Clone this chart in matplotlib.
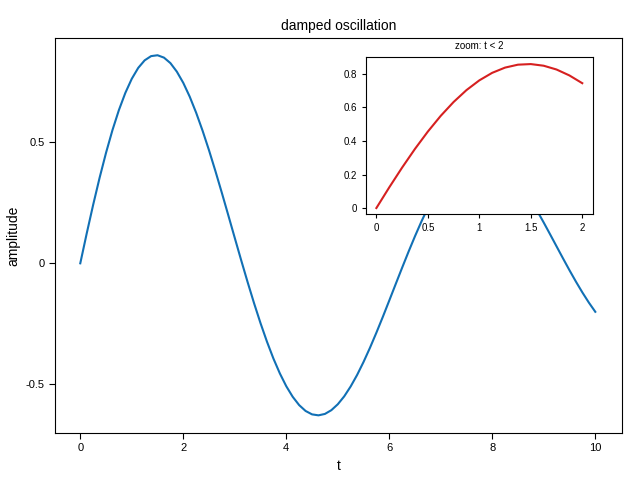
import matplotlib
matplotlib.use("Agg")
import matplotlib.pyplot as plt

t = [0, 0.125, 0.25, 0.375, 0.5, 0.625, 0.75, 0.875, 1.0, 1.125, 1.25, 1.375, 1.5, 1.625, 1.75, 1.875,
     2.0, 2.125, 2.25, 2.375, 2.5, 2.625, 2.75, 2.875, 3.0, 3.125, 3.25, 3.375, 3.5, 3.625, 3.75, 3.875,
     4.0, 4.125, 4.25, 4.375, 4.5, 4.625, 4.75, 4.875, 5.0, 5.125, 5.25, 5.375, 5.5, 5.625, 5.75, 5.875,
     6.0, 6.125, 6.25, 6.375, 6.5, 6.625, 6.75, 6.875, 7.0, 7.125, 7.25, 7.375, 7.5, 7.625, 7.75, 7.875,
     8.0, 8.125, 8.25, 8.375, 8.5, 8.625, 8.75, 8.875, 9.0, 9.125, 9.25, 9.375, 9.5, 9.625, 9.75, 9.875,
     10.0]
amp = [0, 0.1232, 0.2413, 0.3528, 0.4560, 0.5497, 0.6323, 0.7032, 0.7614, 0.8063, 0.8375, 0.8549,
       0.8585, 0.8487, 0.8261, 0.7908, 0.7445, 0.6876, 0.6213, 0.5470, 0.4661, 0.3798, 0.2899, 0.1976,
       0.1045, 0.0121, -0.0782, -0.1651, -0.2472, -0.3234, -0.3929, -0.4543, -0.5073, -0.5509, -0.5851,
       -0.6093, -0.6233, -0.6273, -0.6215, -0.6060, -0.5816, -0.5489, -0.5081, -0.4607, -0.4070, -0.3485,
       -0.2860, -0.2207, -0.1533, -0.0853, -0.0178, 0.0485, 0.1123, 0.1729, 0.2291, 0.2806, 0.3263,
       0.3658, 0.3986, 0.4245, 0.4431, 0.4543, 0.4582, 0.4551, 0.4445, 0.4277, 0.4044, 0.3755, 0.3413,
       0.3028, 0.2604, 0.2152, 0.1676, 0.1186, 0.0690, 0.0195, -0.0291, -0.0760, -0.1205, -0.1621,
       -0.2001]
zoom_t = t[:17]
zoom_amp = amp[:17]

plt.rcParams['font.family'] = ['Liberation Sans', 'DejaVu Sans']
fig = plt.figure(figsize=(6.4, 4.8), dpi=100)
ax = fig.add_axes([0.086, 0.098, 0.886, 0.823])
ax.plot(t, amp, color='#1170b5', lw=1.5)
ax.set_xlim(-0.49, 10.52)
ax.set_ylim(-0.70, 0.93)
ax.set_xticks([0, 2, 4, 6, 8, 10])
ax.set_yticks([-0.5, 0, 0.5])
ax.set_yticklabels(['-0.5', '0', '0.5'])
ax.tick_params(labelsize=8, direction='out', length=4)
ax.set_xlabel('t', fontsize=10)
ax.set_ylabel('amplitude', fontsize=10)
ax.set_title('damped oscillation', fontsize=10)

ins = fig.add_axes([0.572, 0.554, 0.355, 0.327])
ins.plot(zoom_t, zoom_amp, color='#d62020', lw=1.5)
ins.set_xlim(-0.1, 2.107)
ins.set_ylim(-0.036, 0.90)
ins.set_xticks([0, 0.5, 1, 1.5, 2])
ins.set_xticklabels(['0', '0.5', '1', '1.5', '2'])
ins.set_yticks([0, 0.2, 0.4, 0.6, 0.8])
ins.set_yticklabels(['0', '0.2', '0.4', '0.6', '0.8'])
ins.tick_params(labelsize=7, direction='out', length=3)
ins.set_title('zoom: t < 2', fontsize=7)

fig.savefig('out.png')
